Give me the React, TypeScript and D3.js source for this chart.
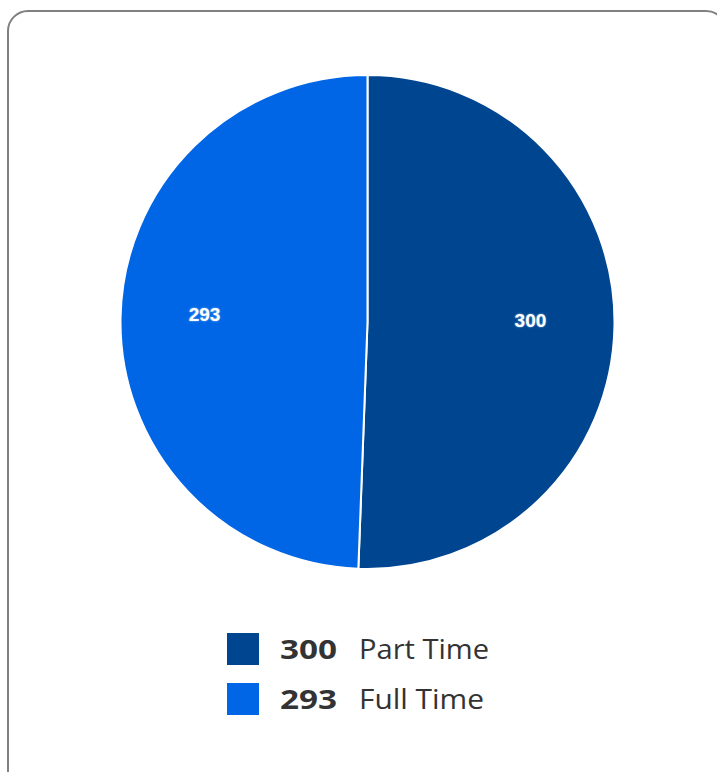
import React from "react";
import * as d3 from "d3";

const categories = ["Part Time", "Full Time"];
const values = [300, 293];
const colors = ["#004590", "#0066e6"];

export default function App() {
  const W = 717, H = 772;
  const cx = 367.5, cy = 322, r = 247;
  const pie = d3.pie<number>().sort(null).value((d) => d)(values);
  const arc = d3.arc<d3.PieArcDatum<number>>().innerRadius(0).outerRadius(r);
  const labelArc = d3.arc<d3.PieArcDatum<number>>().innerRadius(163).outerRadius(163);
  const legendY = d3.scaleBand<string>().domain(categories).range([633, 733]).paddingInner(0);
  return (
    <svg width={W} height={H} style={{ position: "absolute", left: 0, top: 0 }}>
      <rect x={8} y={11} width={718} height={780} rx={20} ry={20} fill="#fff" stroke="#808080" strokeWidth={2} />
      <g transform={`translate(${cx},${cy})`}>
        {pie.map((p, i) => (
          <path key={i} d={arc(p) || ""} fill={colors[i]} stroke="#fff" strokeWidth={2} />
        ))}
        {pie.map((p, i) => {
          const [x, y] = labelArc.centroid(p);
          return (
            <text key={"l" + i} x={x} y={y - 5} textAnchor="middle" dy="0.35em" fill="#fff"
              style={{ fontFamily: "Liberation Sans, Arial, sans-serif", fontWeight: 700, fontSize: 19, textShadow: "0 0 2px rgba(180,220,255,0.8)" }}>
              {values[i]}
            </text>
          );
        })}
      </g>
      {categories.map((c, i) => {
        const y0 = legendY(c)!;
        return (
          <g key={"lg" + i}>
            <rect x={227} y={y0} width={32} height={32} fill={colors[i]} />
            <text x={280} y={y0 + 26} fill="#333" textLength={57} lengthAdjust="spacingAndGlyphs"
              style={{ fontFamily: "Open Sans, sans-serif", fontWeight: 700, fontSize: 27 }}>{values[i]}</text>
            <text x={359} y={y0 + 26} fill="#333" textLength={i === 0 ? 130 : 125} lengthAdjust="spacingAndGlyphs"
              style={{ fontFamily: "Open Sans, sans-serif", fontWeight: 400, fontSize: 27 }}>{c}</text>
          </g>
        );
      })}
    </svg>
  );
}
